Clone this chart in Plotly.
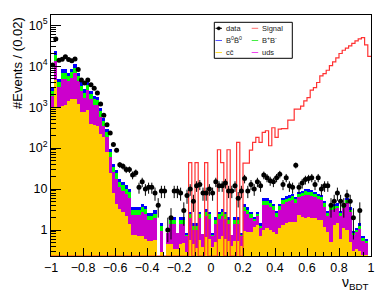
import numpy as np
import plotly.graph_objects as go

nbins = 100
xlo, xhi = -1.0, 1.0

ccbar = [950, 4700, 1000, 1050, 1150, 1450, 1600, 1600, 1200, 760,
         760, 830, 390, 370, 355, 225, 185, 80, 25, 8,
         4.4, 3.3, 2.8, 2.2, 1.4, 0.75, 0.75, 0.7, 0.7, 0.6,
         0.55, 0.55, 0.57, 0, 0.29, 0, 0.45, 0.45, 0.35, 0.35,
         0.45, 0.47, 0.29, 0.57, 0.45, 0.37, 0.57, 0.38, 0.69, 0.6,
         0.38, 0.5, 0.6, 0.7, 0.6, 0.55, 0.4, 0.55, 0.55, 0.4,
         0.95, 0.9, 0.9, 1.2, 1.3, 0.7, 1.0, 1.1, 1.0, 0.9,
         0.8, 1.1, 1.3, 1.5, 1.6, 1.6, 1.6, 2.3, 2.1, 2.0,
         2.1, 2.0, 2.0, 1.8, 1.8, 1.2, 0.9, 0.5, 1.3, 1.5,
         0.6, 1.1, 1.0, 0.5, 0.3, 0.35, 0.3, 0.25, 0.25, 0]

uds = [900, 9000, 2100, 3950, 3850, 2850, 3600, 5200, 3100, 1690,
       890, 1720, 1160, 790, 745, 355, 155, 105, 34, 18,
       13.6, 7.7, 6.4, 5.4, 4.7, 1.6, 1.6, 1.65, 2.1, 1.9,
       1.2, 1.2, 1.4, 0, 0.66, 0, 0.4, 0.95, 1.05, 0.5,
       0.95, 0.93, 0.44, 1.35, 0.55, 0.63, 1.35, 0.42, 1.5, 1.3,
       0.35, 0.9, 1.3, 1.5, 1.3, 0.85, 0.35, 0.85, 0.85, 0.33,
       1.95, 1.6, 1.1, 0.5, 0.9, 0.45, 3.1, 3.0, 2.7, 2.2,
       1.3, 2.0, 3.0, 3.3, 3.5, 3.8, 3.0, 4.0, 4.5, 5.2,
       5.0, 4.9, 4.3, 3.8, 3.6, 2.5, 1.3, 2.6, 1.9, 2.0,
       1.6, 2.3, 3.6, 2.3, 0.45, 0.55, 0.75, 0.3, 0.25, 0]

bpbm = [600, 5300, 1000, 2000, 2000, 1500, 1900, 2400, 1500, 900,
        600, 950, 550, 420, 400, 210, 120, 65, 20, 9,
        6, 4, 3.3, 2.7, 2.2, 0.65, 0.65, 0.65, 0.8, 0.75,
        0.45, 0.45, 0.55, 0, 0.27, 0, 0, 0.38, 0.38, 0,
        0.38, 0.38, 0.05, 0.48, 0.25, 0.25, 0.48, 0, 0.6, 0.5,
        0.05, 0.38, 0.5, 0.6, 0.5, 0.38, 0, 0.38, 0.38, 0.05,
        0.75, 0.6, 0.45, 0.22, 0.35, 0.17, 1.0, 1.0, 0.9, 0.75,
        0.45, 0.75, 1.0, 1.0, 1.1, 1.2, 1.0, 1.3, 1.4, 1.6,
        1.5, 1.5, 1.3, 1.1, 1.1, 0.75, 0.4, 0.6, 0.55, 0.55,
        0.4, 0.55, 0.8, 0.45, 0.1, 0.15, 0.25, 0.1, 0.05, 0]

b0b0 = [450, 4000, 800, 1500, 1500, 1200, 1400, 1800, 1200, 650,
        450, 700, 400, 320, 300, 160, 90, 50, 16, 7,
        5, 3, 2.5, 2, 1.7, 0.6, 0.6, 0.6, 0.7, 0.65,
        0.4, 0.4, 0.48, 0, 0.23, 0, 0, 0.32, 0.32, 0,
        0.32, 0.32, 0.05, 0.4, 0.2, 0.2, 0.4, 0, 0.5, 0.4,
        0.05, 0.32, 0.4, 0.5, 0.4, 0.32, 0, 0.32, 0.32, 0.05,
        0.65, 0.5, 0.35, 0.18, 0.25, 0.13, 0.8, 0.8, 0.7, 0.55,
        0.35, 0.55, 0.7, 0.8, 0.8, 0.9, 0.7, 0.9, 1.0, 1.2,
        1.2, 1.1, 1.0, 0.9, 0.8, 0.55, 0.3, 0.5, 0.45, 0.45,
        0.3, 0.45, 0.6, 0.35, 0.05, 0.1, 0.15, 0.05, 0.05, 0]

data = [10700, 46000, 14000, 14800, 17000, 14500, 13500, 15000, 8300, 4600,
        3900, 4600, 3500, 2900, 2200, 1200, 630, 370, 233, 123,
        89, 39, 36, 30, 30, 22, 25, 11, 15, 10,
        11, 11, 8, 4, 9, 9, 1, 2, 9, 9,
        8, 3, 7, 10, 5, 12, 13, 8, 8, 10,
        8, 15, 12, 12, 14, 9, 9, 12, 6, 9,
        18, 9, 13, 10, 15, 12, 22, 19, 16, 15,
        19, 23, 13, 19, 12, 11, 38, 11, 14, 17,
        18, 19, 13, 19, 10, 12, 12, 4, 5, 8,
        5, 4, 7, 5, 2, 0, 3, 0, 0, 0]

signal = [0, 0, 0, 0, 0, 0, 0, 0, 0, 0,
          0, 0, 0, 0, 0, 0, 0, 0, 0, 0,
          0, 0, 0, 0, 0, 0, 0, 0, 0, 0,
          0, 0, 0, 0, 0, 0, 0, 0, 0, 0,
          0, 0, 0, 44, 0, 44, 0, 0, 44, 0,
          0, 0, 91, 44, 0, 91, 0, 0, 138, 0,
          43, 43, 89, 138, 182, 138, 241, 265, 114, 314,
          182, 290, 300, 300, 480, 480, 890, 890, 1060, 1420,
          1700, 2600, 3000, 4000, 5800, 6600, 7950, 10300, 12700, 16000,
          20400, 24500, 27500, 31400, 36000, 41500, 46500, 50000, 33000, 17300]

x_major = [-1, -0.8, -0.6, -0.4, -0.2, 0, 0.2, 0.4, 0.6, 0.8, 1]
x_major_text = ["\u22121", "\u22120.8", "\u22120.6", "\u22120.4", "\u22120.2", "0",
                "0.2", "0.4", "0.6", "0.8", "1"]
y_major = [1, 10, 100, 1000, 10000, 100000]
y_major_text = ["1", "10", "10<sup>2</sup>", "10<sup>3</sup>", "10<sup>4</sup>", "10<sup>5</sup>"]

edges = np.linspace(xlo, xhi, nbins + 1)
centers = 0.5 * (edges[:-1] + edges[1:])
width = edges[1] - edges[0]

ylog = [-0.635, 5.25]
yfloor = 10 ** ylog[0]

FONT = "Liberation Sans, Arial, Helvetica, sans-serif"
C_CC, C_UDS, C_BPM, C_B0 = "#ffcc00", "#cc00cc", "#00ff00", "#0000ff"
C_SIG = "#ff3333"

fig = go.Figure()
for vals, col in [(ccbar, C_CC), (uds, C_UDS), (bpbm, C_BPM), (b0b0, C_B0)]:
    fig.add_bar(x=centers, y=vals, width=width,
                marker=dict(color=col, line=dict(width=0)), showlegend=False)

sig = np.maximum(np.array(signal, float), yfloor)
fig.add_scatter(x=edges, y=np.append(sig, sig[-1]), mode="lines",
                line=dict(shape="hv", color=C_SIG, width=1.2), showlegend=False)

d = np.array(data, float)
mask = d > 0
err = np.sqrt(d)
errm = np.where(d > 1.5, err, 0.5 * d)
fig.add_scatter(x=centers[mask], y=d[mask], mode="markers",
                marker=dict(color="black", size=5),
                error_y=dict(type="data", array=err[mask], arrayminus=errm[mask],
                             width=0, thickness=1, color="black"),
                showlegend=False)

x_minor = [round(v, 2) for v in np.arange(-1, 1.0001, 0.05)]
y_minor = [k * 10.0 ** n for n in range(-1, 6) for k in range(2, 10)]

fig.update_layout(
    width=390, height=293,
    margin=dict(l=51, r=19, t=15, b=37, autoexpand=False),
    barmode="stack", bargap=0,
    plot_bgcolor="white", paper_bgcolor="white",
    font=dict(family=FONT, size=13, color="black"),
    showlegend=False,
)
fig.update_xaxes(range=[xlo, xhi], tickvals=x_major, ticktext=x_major_text,
                 tickfont=dict(size=12.5),
                 ticks="inside", ticklen=8, tickcolor="black", tickwidth=1,
                 showline=True, linecolor="black", linewidth=1, mirror=True,
                 showgrid=False, zeroline=False, automargin=False,
                 minor=dict(tickvals=x_minor, ticks="inside", ticklen=4,
                            tickcolor="black", showgrid=False))
fig.update_yaxes(type="log", range=ylog, tickvals=y_major, ticktext=y_major_text,
                 tickfont=dict(size=12.5),
                 ticks="inside", ticklen=10, tickcolor="black", tickwidth=1,
                 showline=True, linecolor="black", linewidth=1, mirror=True,
                 showgrid=False, zeroline=False, automargin=False,
                 minor=dict(tickvals=y_minor, ticks="inside", ticklen=5,
                            tickcolor="black", showgrid=False))

L, R, T, B = 51, 371, 15, 256
def px(xp):
    return (xp - L) / (R - L)
def py(yp):
    return (B - yp) / (B - T)

fig.add_annotation(text="#Events / (0.02)", xref="paper", yref="paper",
                   x=px(17), y=1.0, xanchor="center", yanchor="top",
                   textangle=-90, showarrow=False,
                   font=dict(family=FONT, size=13, color="black"))
fig.add_annotation(text="\u03bd<sub>BDT</sub>", xref="paper", yref="paper",
                   x=1.0, y=py(283), xanchor="right", yanchor="middle",
                   showarrow=False, font=dict(family=FONT, size=14, color="black"))

fig.add_shape(type="rect", xref="paper", yref="paper",
              x0=px(214.3), x1=px(292.3), y0=py(58.3), y1=py(22.3),
              line=dict(color="black", width=1), fillcolor="white", layer="above")
entries = [
    ("data", "black", 215.5, 28.3, True),
    ("Signal", "#ff7070", 251.7, 28.3, False),
    ("B<sup>0</sup>B\u0304<sup>0</sup>", "#5555ff", 215.5, 40.5, False),
    ("B<sup>+</sup>B<sup>-</sup>", "#44ee44", 251.7, 40.5, False),
    ("cc\u0304", "#ffdd33", 215.5, 52.5, False),
    ("uds", "#ee44ee", 251.7, 52.5, False),
]
for label, col, x0, yy, is_data in entries:
    fig.add_shape(type="line", xref="paper", yref="paper",
                  x0=px(x0), x1=px(x0 + 6.5), y0=py(yy), y1=py(yy),
                  line=dict(color=col, width=1), layer="above")
    if is_data:
        fig.add_shape(type="circle", xref="paper", yref="paper",
                      x0=px(x0 + 1.6), x1=px(x0 + 4.9), y0=py(yy + 1.6), y1=py(yy - 1.6),
                      line=dict(color="black", width=0.5), fillcolor="black", layer="above")
    fig.add_annotation(text=label, xref="paper", yref="paper",
                       x=px(x0 + 8), y=py(yy), xanchor="left", yanchor="middle",
                       showarrow=False, font=dict(family=FONT, size=7.5, color="#222"))

fig.write_html("out.html", config={"displayModeBar": False},
               post_script="document.body.style.margin='0px';document.body.style.padding='0px';")
